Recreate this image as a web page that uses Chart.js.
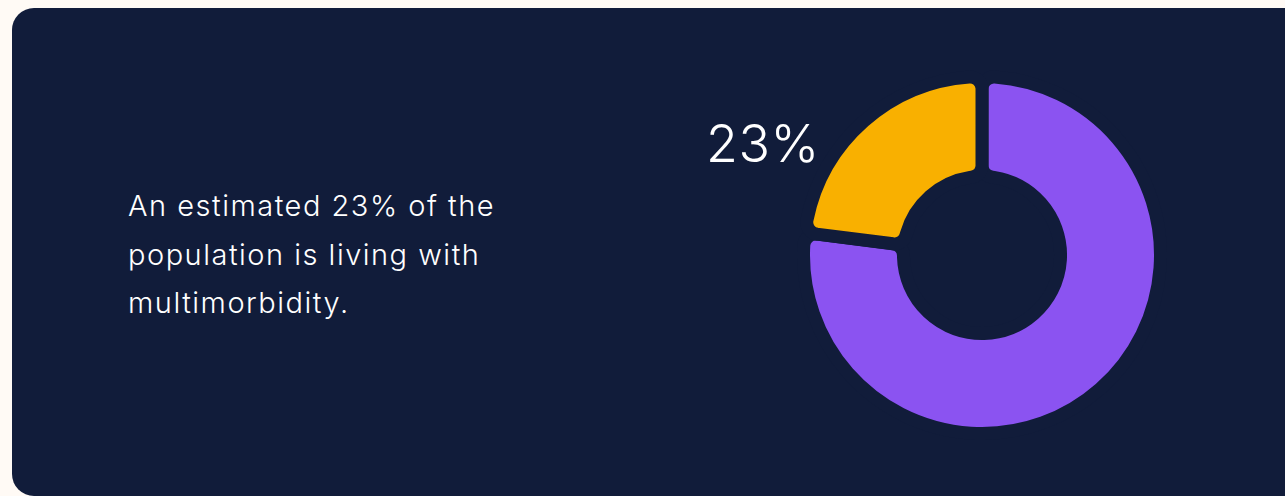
<!DOCTYPE html>
<html>
<head>
<meta charset="utf-8">
<script src="https://cdn.jsdelivr.net/npm/chart.js@4"></script>
<style>
  html, body { margin: 0; padding: 0; background: #fffaf5; width: 1285px; height: 496px; overflow: hidden; }
  .card {
    position: absolute; left: 12px; top: 8px; width: 1320px; height: 488px;
    background: #111c3a; border-radius: 22px;
  }
  .blurb {
    position: absolute; left: 128px; top: 182px; width: 460px;
    color: #fff; font-family: Inter, sans-serif; font-size: 29px; line-height: 48.5px; font-weight: 300;
    letter-spacing: 1.5px;
  }
  .big {
    position: absolute; left: 706px; top: 112px;
    color: #fff; font-family: Inter, sans-serif; font-size: 52px; font-weight: 300; line-height: 64px;
    letter-spacing: 0.5px;
  }
  .donut { position: absolute; left: 797px; top: 70px; width: 370px; height: 370px; }
</style>
</head>
<body>
<div class="card"></div>
<div class="blurb">An estimated 23% of the population is living with multimorbidity.</div>
<div class="big" id="big"></div>
<div class="donut"><canvas id="donutChart" width="370" height="370"></canvas></div>
<script>
  const groups = ["Other", "Living with multimorbidity"];
  const shares = [77, 23];
  const colours = ["#8b53f1", "#f9b000"];

  document.getElementById("big").textContent = shares[1] + "%";

  // gaps come from a thick border in the card colour, so they stay parallel
  const ctx = document.getElementById("donutChart").getContext("2d");
  const donutChart = new Chart(ctx, {
    type: "doughnut",
    data: {
      labels: groups,
      datasets: [
        {
          data: shares,
          backgroundColor: colours,
          borderColor: "#111c3a",
          borderWidth: 13,
          borderRadius: 12,
        },
      ],
    },
    options: {
      responsive: false,
      animation: false,
      cutout: "44%",
      plugins: {
        legend: { display: false },
        tooltip: { enabled: false },
      },
    },
  });
</script>
</body>
</html>
